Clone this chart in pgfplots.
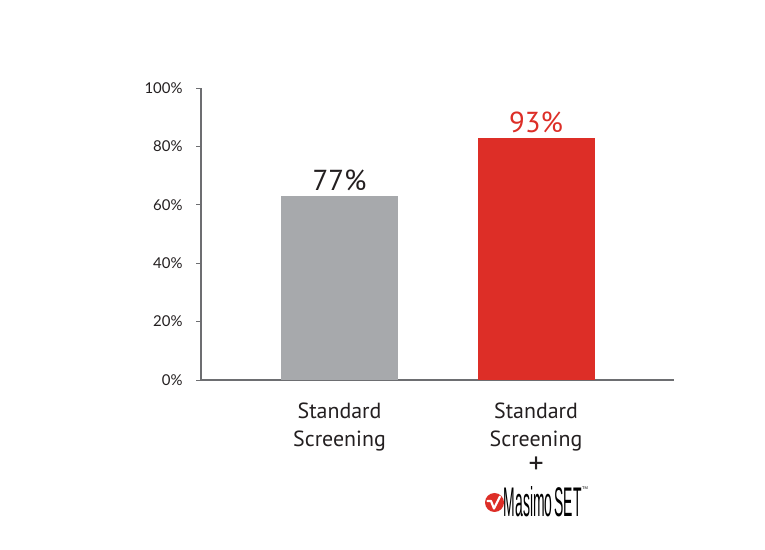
\documentclass[border=0pt]{standalone}
\usepackage{pgfplots}
\pgfplotsset{compat=1.18}
\usepackage{fontspec}
\usepackage{graphicx}
\setmainfont{PT Sans}
\newfontfamily\logofont{Liberation Sans}
\newfontfamily\tickfont{Lato}
\definecolor{barGray}{RGB}{167,169,172}
\definecolor{barRed}{RGB}{221,46,39}
\definecolor{axisGray}{RGB}{109,110,113}
\definecolor{txt}{RGB}{35,31,32}
\begin{document}
\begin{tikzpicture}
\path[use as bounding box, fill=white] (0,0) rectangle (765bp,550bp);
\begin{axis}[
  at={(201bp,170bp)}, anchor=south west,
  scale only axis, width=473bp, height=292bp,
  xmin=-0.705, xmax=1.702, ymin=0, ymax=100,
  axis lines=left,
  axis line style={-, axisGray, line width=1.3bp},
  ytick={0,20,40,60,80,100},
  yticklabel={\pgfmathprintnumber{\tick}\%},
  /pgf/number format/assume math mode=true,
  tick align=outside, major tick length=5bp,
  ytick style={axisGray, line width=0.8bp},
  xtick={0,1}, xtick style={draw=none},
  xticklabels={{Standard\\Screening},{Standard\\Screening\\{\fontsize{30}{28}\selectfont +}}},
  yticklabel style={font=\tickfont\fontsize{15}{16}\selectfont, color=txt, xshift=-10bp},
  xticklabel style={align=center, font=\fontsize{22}{28}\selectfont, color=txt, yshift=-14bp},
  ybar, bar shift=0pt, bar width=117bp,
  nodes near coords, point meta=explicit symbolic,
  nodes near coords style={font=\fontsize{29}{32}\selectfont, anchor=south, inner sep=0pt, yshift=5bp},
  clip=false,
]
\addplot[fill=barGray, draw=none, nodes near coords style={color=txt}] coordinates {(0,63) [77\%]};
\addplot[fill=barRed, draw=none, nodes near coords style={color=barRed}] coordinates {(1,83) [93\%]};
\end{axis}
% Masimo SET logo
\fill[barRed] (494.5bp,47.5bp) circle (9.5bp);
\draw[white, line width=2.2bp, line join=round, line cap=round]
  (487.5bp,49bp) -- (491bp,49bp) -- (494bp,41.5bp) -- (500bp,53.5bp);
\node[anchor=south west, inner sep=0pt] at (503.5bp,33bp)
  {\resizebox{78bp}{30bp}{\logofont Masimo\kern0.15em SET}};
\node[anchor=north west, inner sep=0pt, font=\logofont\fontsize{4}{4}\selectfont] at (582bp,63bp) {TM};
\end{tikzpicture}
\end{document}
